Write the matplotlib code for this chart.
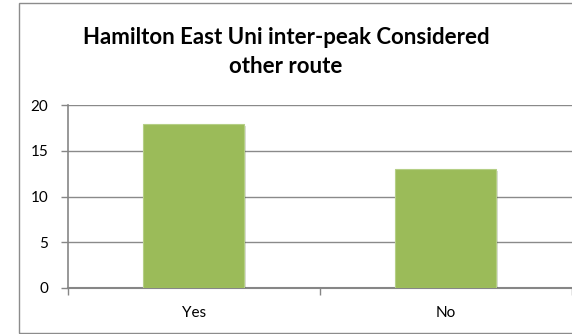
import numpy as np
import matplotlib.pyplot as plt
import matplotlib.patheffects as pe
from matplotlib.patches import Rectangle

# Chart data
categories = ["Yes", "No"]
counts = [18, 13]
y_ticks = [0, 5, 10, 15, 20]
title = "Hamilton East Uni inter-peak Considered\nother route"

plt.rcParams['font.family'] = ['Lato', 'DejaVu Sans']

W, H = 572, 334
fig = plt.figure(figsize=(W / 100, H / 100), dpi=100)

# outer chart border (cut off on the right like the original)
fig.patches.append(Rectangle((19 / W, 1 / H), 1.0, 330 / H, transform=fig.transFigure,
                             fill=False, edgecolor="#8c8c8c", linewidth=1.0))

ax = fig.add_axes([67.5 / W, (H - 287.7) / H, (W - 67.5) / W, 182.3 / H])

x = np.arange(len(categories))
bars = ax.bar(x, counts, width=0.4, color="#9bbb59", edgecolor="#b5cf86", linewidth=0.8, zorder=3)
for b in bars:
    b.set_path_effects([pe.SimplePatchShadow(offset=(1.5, -1.5), alpha=0.18), pe.Normal()])

ax.set_xlim(-0.5, len(categories) - 0.5)
ax.set_ylim(0, 20)
ax.set_yticks(y_ticks)
ax.set_yticklabels([str(t) for t in y_ticks], fontsize=11)
ax.set_xticks(x)
ax.set_xticklabels(categories, fontsize=11)
ax.tick_params(axis='x', which='major', length=0, pad=13)
ax.set_xticks(np.arange(-0.5, len(categories)), minor=True)
ax.tick_params(axis='x', which='minor', length=5, color="#868686", width=1)
ax.tick_params(axis='y', length=5, color="#868686", width=1, pad=9)

ax.yaxis.grid(True, color="#8a8a8a", linewidth=1.0, zorder=0)
ax.set_axisbelow(True)
for s in ["top", "right"]:
    ax.spines[s].set_visible(False)
ax.spines["left"].set_color("#868686")
ax.spines["bottom"].set_color("#868686")
ax.spines["left"].set_linewidth(1.2)
ax.spines["bottom"].set_linewidth(1.5)

fig.text(0.5, 1 - 52 / H, title, ha='center', va='center', fontsize=16,
         fontweight='bold', linespacing=1.45)

fig.savefig("out.png", dpi=100)
